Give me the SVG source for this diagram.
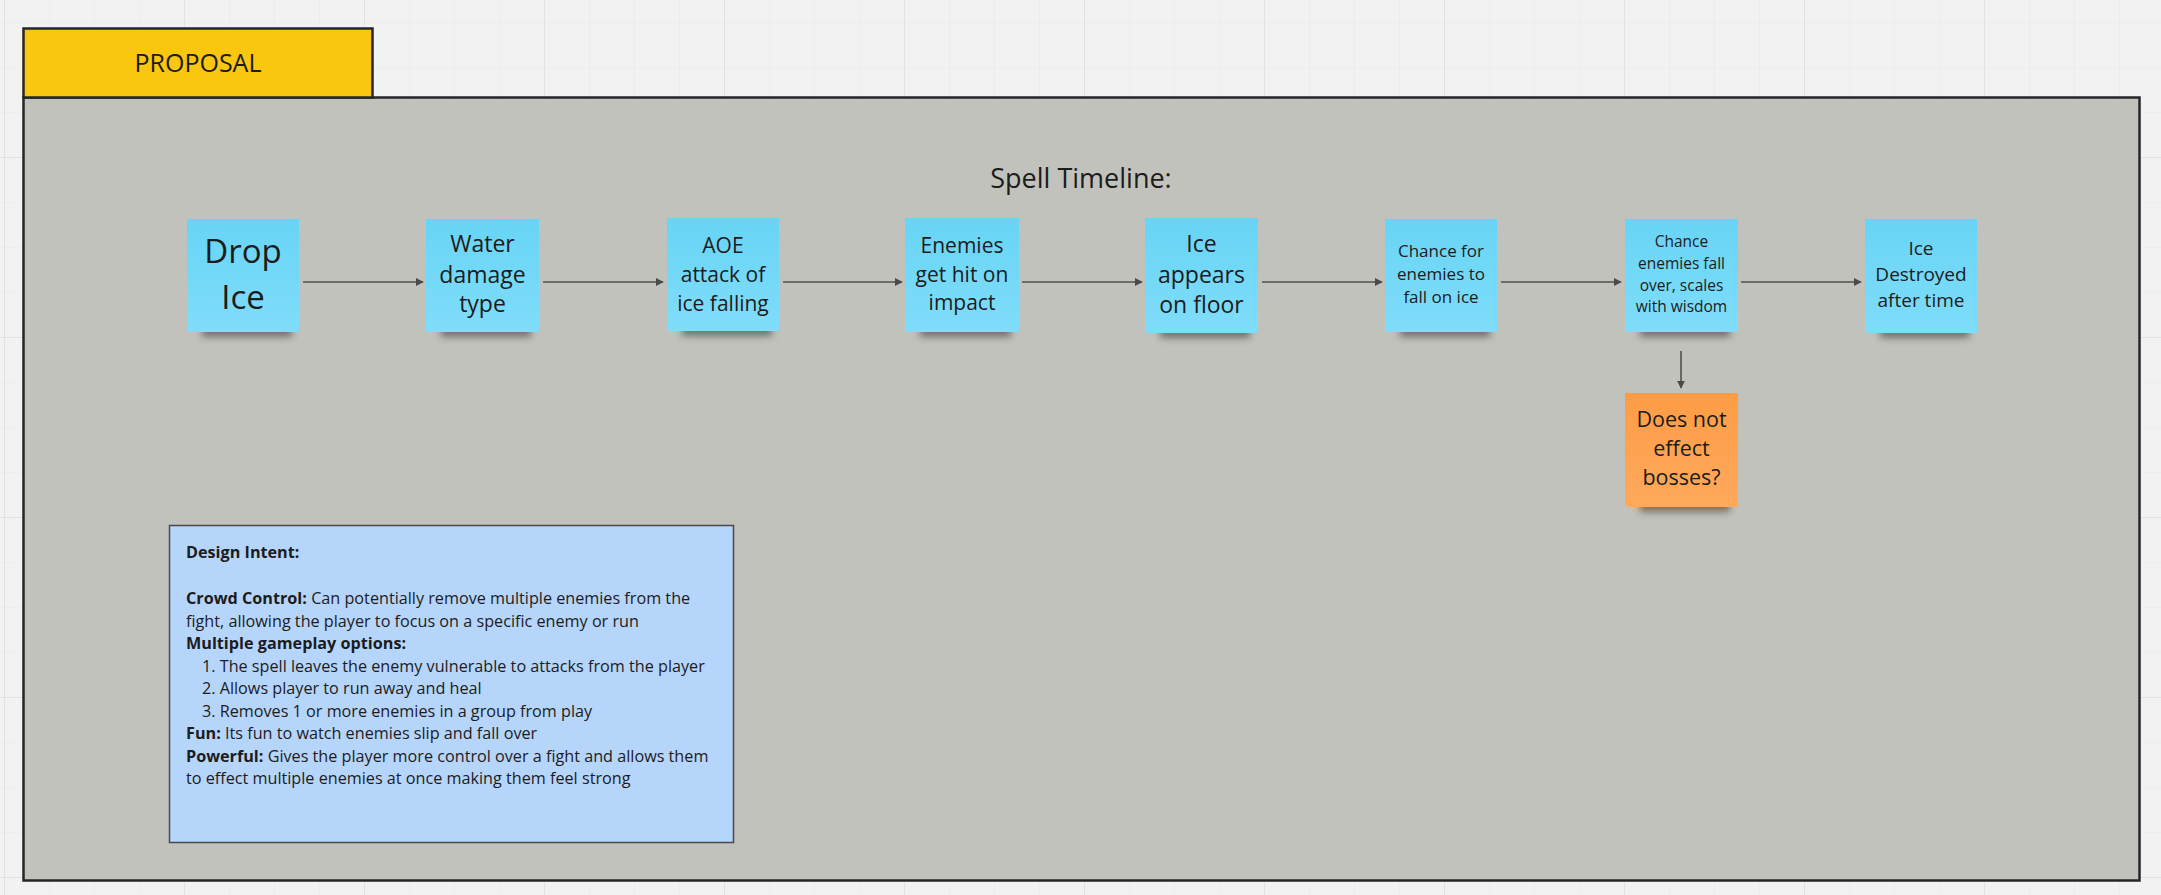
<svg xmlns="http://www.w3.org/2000/svg" width="2161" height="895" viewBox="0 0 2161 895">
<defs>
<pattern id="gmin" patternUnits="userSpaceOnUse" x="4" y="22" width="45" height="45">
<path d="M0 0 H45 M0 0 V45" stroke="#e9e9e9" stroke-width="1.2" fill="none"/>
</pattern>
<pattern id="gmaj" patternUnits="userSpaceOnUse" x="4" y="157" width="180" height="180">
<path d="M0 0 H180 M0 0 V180" stroke="#e2e2e2" stroke-width="2" fill="none"/>
</pattern>
<linearGradient id="gb" x1="0" y1="0" x2="0" y2="1">
<stop offset="0" stop-color="#68d4f5"/>
<stop offset="1" stop-color="#7fddfa"/>
</linearGradient>
<linearGradient id="go" x1="0" y1="0" x2="0" y2="1">
<stop offset="0" stop-color="#fd9c45"/>
<stop offset="1" stop-color="#ffa95d"/>
</linearGradient>
<filter id="sh" x="-20%" y="-200%" width="140%" height="500%">
<feGaussianBlur stdDeviation="3.5"/>
</filter>
<marker id="ah" viewBox="0 0 10 10" refX="9" refY="5" markerWidth="8" markerHeight="8" markerUnits="userSpaceOnUse" orient="auto">
<path d="M0 0 L10 5 L0 10 z" fill="#4a4a4a"/>
</marker>
</defs>
<style>
text{font-family:"Open Sans","Noto Sans","Liberation Sans",sans-serif;fill:#1c1c1c}
.st{text-anchor:middle}
.blue{fill:url(#gb)}
.orange{fill:url(#go)}
.shadow{fill:#2e2e2e;opacity:0.55;filter:url(#sh)}
.conn{stroke:#4f4f4f;stroke-width:1.6;fill:none;marker-end:url(#ah)}
.di{font-size:16.2px}
.b{font-weight:700}
</style>
<rect x="0" y="0" width="2161" height="895" fill="#f2f2f2"/>
<rect x="0" y="0" width="2161" height="895" fill="url(#gmin)"/>
<rect x="0" y="0" width="2161" height="895" fill="url(#gmaj)"/>

<g id="frame">
<rect x="23.5" y="97.5" width="2116" height="783" fill="#c2c2bc" stroke="#262626" stroke-width="2.5"/>
</g>
<g id="proposal">
<rect x="23.5" y="28.5" width="349" height="69" fill="#fac710" stroke="#262626" stroke-width="2.5"/>
<text x="198" y="72" class="st" font-size="25">PROPOSAL</text>
</g>
<g id="title">
<text x="1081" y="188" class="st" font-size="27">Spell Timeline:</text>
</g>

<g id="connectors">
<line class="conn" x1="303" y1="282" x2="423" y2="282"/>
<line class="conn" x1="543" y1="282" x2="663" y2="282"/>
<line class="conn" x1="783" y1="282" x2="902" y2="282"/>
<line class="conn" x1="1022" y1="282" x2="1142" y2="282"/>
<line class="conn" x1="1262" y1="282" x2="1382" y2="282"/>
<line class="conn" x1="1501" y1="282" x2="1621" y2="282"/>
<line class="conn" x1="1741" y1="282" x2="1861" y2="282"/>
<line class="conn" x1="1681" y1="351" x2="1681" y2="388"/>
</g>

<g id="n1">
<rect class="shadow" x="202" y="326" width="90" height="11"/>
<rect class="blue" x="187" y="219" width="112" height="113"/>
<text class="st" x="243" y="263" font-size="33">Drop</text>
<text class="st" x="243" y="309" font-size="33">Ice</text>
</g>
<g id="n2">
<rect class="shadow" x="441" y="326" width="90" height="11"/>
<rect class="blue" x="426" y="219" width="113" height="113"/>
<text class="st" x="482.5" y="252" font-size="23">Water</text>
<text class="st" x="482.5" y="283" font-size="23">damage</text>
<text class="st" x="482.5" y="312" font-size="23">type</text>
</g>
<g id="n3">
<rect class="shadow" x="682" y="325" width="90" height="11"/>
<rect class="blue" x="667" y="218" width="112" height="113"/>
<text class="st" x="723" y="253" font-size="21">AOE</text>
<text class="st" x="723" y="282" font-size="21">attack of</text>
<text class="st" x="723" y="311" font-size="21">ice falling</text>
</g>
<g id="n4">
<rect class="shadow" x="920" y="326" width="91" height="11"/>
<rect class="blue" x="905" y="218" width="114" height="114"/>
<text class="st" x="962" y="253" font-size="21">Enemies</text>
<text class="st" x="962" y="282" font-size="21">get hit on</text>
<text class="st" x="962" y="310" font-size="21">impact</text>
</g>
<g id="n5">
<rect class="shadow" x="1160" y="327" width="90" height="11"/>
<rect class="blue" x="1145" y="218" width="113" height="115"/>
<text class="st" x="1201.5" y="252" font-size="23">Ice</text>
<text class="st" x="1201.5" y="283" font-size="23">appears</text>
<text class="st" x="1201.5" y="313" font-size="23">on floor</text>
</g>
<g id="n6">
<rect class="shadow" x="1400" y="326" width="90" height="11"/>
<rect class="blue" x="1385" y="219" width="112" height="113"/>
<text class="st" x="1441" y="257" font-size="17">Chance for</text>
<text class="st" x="1441" y="280" font-size="17">enemies to</text>
<text class="st" x="1441" y="303" font-size="17">fall on ice</text>
</g>
<g id="n7">
<rect class="shadow" x="1640" y="326" width="90" height="11"/>
<rect class="blue" x="1625" y="219" width="113" height="113"/>
<text class="st" x="1681.5" y="247" font-size="15.5">Chance</text>
<text class="st" x="1681.5" y="269" font-size="15.5">enemies fall</text>
<text class="st" x="1681.5" y="291" font-size="15.5">over, scales</text>
<text class="st" x="1681.5" y="312" font-size="15.5">with wisdom</text>
</g>
<g id="n8">
<rect class="shadow" x="1880" y="327" width="89" height="11"/>
<rect class="blue" x="1865" y="219" width="112" height="114"/>
<text class="st" x="1921" y="255" font-size="19">Ice</text>
<text class="st" x="1921" y="281" font-size="19">Destroyed</text>
<text class="st" x="1921" y="307" font-size="19">after time</text>
</g>
<g id="n9">
<rect class="shadow" x="1640" y="501" width="90" height="11"/>
<rect class="orange" x="1625" y="393" width="113" height="114"/>
<text class="st" x="1681.5" y="427" font-size="21.5">Does not</text>
<text class="st" x="1681.5" y="456" font-size="21.5">effect</text>
<text class="st" x="1681.5" y="485" font-size="21.5">bosses?</text>
</g>

<g id="design-intent">
<rect x="169.5" y="525.5" width="564" height="317" fill="#b6d5fb" stroke="#4a4a4a" stroke-width="1.5"/>
<text class="di b" x="186" y="558">Design Intent:</text>
<text class="di" x="186" y="604"><tspan class="b">Crowd Control:</tspan> Can potentially remove multiple enemies from the</text>
<text class="di" x="186" y="626.5">fight, allowing the player to focus on a specific enemy or run</text>
<text class="di b" x="186" y="649">Multiple gameplay options:</text>
<text class="di" x="202" y="671.5">1. The spell leaves the enemy vulnerable to attacks from the player</text>
<text class="di" x="202" y="694">2. Allows player to run away and heal</text>
<text class="di" x="202" y="716.5">3. Removes 1 or more enemies in a group from play</text>
<text class="di" x="186" y="739"><tspan class="b">Fun:</tspan> Its fun to watch enemies slip and fall over</text>
<text class="di" x="186" y="761.5"><tspan class="b">Powerful:</tspan> Gives the player more control over a fight and allows them</text>
<text class="di" x="186" y="784">to effect multiple enemies at once making them feel strong</text>
</g>
</svg>
